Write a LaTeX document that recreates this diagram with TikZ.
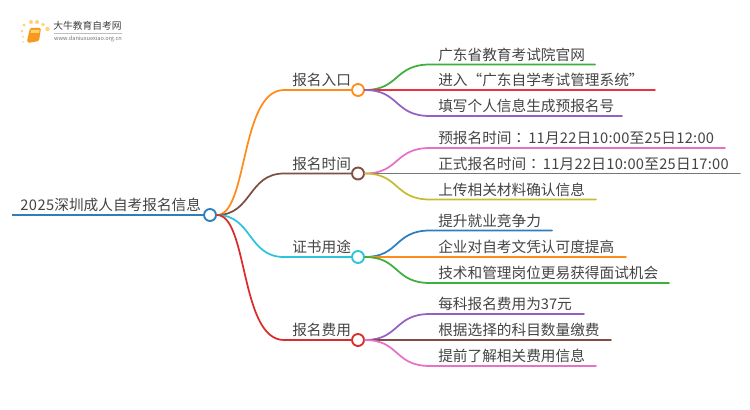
\documentclass[tikz,border=0pt]{standalone}
\usepackage{fontspec}
\setmainfont{Noto Sans CJK SC}
\newfontfamily\tcfont{Noto Sans CJK TC}
\newfontfamily\widefont[LetterSpace=1.8]{Noto Sans CJK SC}
\newfontfamily\digitfont[LetterSpace=3.5]{Noto Sans CJK SC}
\definecolor{cRoot}{HTML}{2E7EBD}
\definecolor{cOrange}{HTML}{FF8C1A}
\definecolor{cBrown}{HTML}{7F4F40}
\definecolor{cCyan}{HTML}{2BC4D8}
\definecolor{cRed}{HTML}{DC2B2B}
\definecolor{cGreen}{HTML}{3CAF3C}
\definecolor{cRed2}{HTML}{EA3340}
\definecolor{cPurple}{HTML}{9560C4}
\definecolor{cPink}{HTML}{E871C8}
\definecolor{cGray}{HTML}{777777}
\definecolor{cOlive}{HTML}{C4BE2E}
\definecolor{cText}{HTML}{444444}
\definecolor{cDot}{HTML}{FFD27A}
\definecolor{cBook}{HTML}{F59A1E}
\definecolor{cPage}{HTML}{FFD36B}
\tikzset{
  x=0.75pt,y=-0.75pt,
  hub/.style={circle,draw=#1,fill=white,line width=1.4pt,minimum size=9pt,inner sep=0pt},
  wire/.style={draw=#1,line width=1.3pt,line cap=round},
  rootwire/.style={draw=#1,line width=1.7pt},
  txt/.style={anchor=west,inner sep=0pt,text=cText,font=\fontsize{11pt}{11pt}\selectfont},
}
\begin{document}
\begin{tikzpicture}
\useasboundingbox (0,0) rectangle (750,410);
\fill[white] (0,0) rectangle (750,410);
% logo
\foreach \px/\py/\r in {24/25/1.7,31/22/2,37/22/2,43/24.5/1.8,47.5/29/2.2,22/31/1.3,23/37/1,23/42/0.8}
  \fill[cDot] (\px,\py) circle[radius=\r];
\fill[cBook,rounded corners=1pt] (30,28) -- (41,28) -- (39,41) -- (28,43) -- (27,41) -- cycle;
\fill[cPage] (31,30) -- (39.5,30) -- (39,33) -- (30.5,33) -- cycle;
\node[inner sep=0pt,anchor=center,text=black!75,font=\fontsize{7.3pt}{7.3pt}\selectfont] (logoa) at (87.5,26) {大牛教育自考网};
\draw[black!25,line width=0.5pt] (54,33) -- (122,33);
\node[inner sep=0pt,anchor=center,text=black!55,font=\fontsize{4.2pt}{4.2pt}\selectfont] (logob) at (88,39) {www.daniuxuexiao.org.cn};
% hubs
\node[hub=cRoot] (root) at (210,215) {};
\node[hub=cOrange] (h1) at (358,90) {};
\node[hub=cBrown] (h2) at (358,173.5) {};
\node[hub=cCyan] (h3) at (358,257) {};
\node[hub=cRed] (h4) at (358,340) {};
% root
\coordinate (rs) at (12,215);
\draw[rootwire=cRoot] (rs) -- (root.west);
\node[txt] (rt) at (20,205) {{\digitfont 2025}深圳成人自考报名信息};
% branches
\coordinate (b1) at (284,90);
\coordinate (b2) at (284,173.5);
\coordinate (b3) at (284,257);
\coordinate (b4) at (284,340);
\draw[wire=cOrange] (root.east) .. controls (248,215) and (240,90) .. (b1) -- (h1.west);
\draw[wire=cBrown] (root.east) .. controls (252,215) and (248,173.5) .. (b2) -- (h2.west);
\draw[wire=cCyan] (root.east) .. controls (252,215) and (248,257) .. (b3) -- (h3.west);
\draw[wire=cRed] (root.east) .. controls (248,215) and (240,340) .. (b4) -- (h4.west);
\node[txt] (t1) at (292,80) {报名入口};
\node[txt] (t2) at (292,163.5) {报名时间};
\node[txt] (t3) at (292,247) {证书用途};
\node[txt] (t4) at (292,330) {报名费用};
% leaves
\foreach \h/\n/\y/\e/\c in {h1/a/64.5/595/cGreen,h1/b/90/655/cRed2,h1/c/116/622/cPurple,
   h2/d/148/725/cPink,h2/e/173.5/740/cGray,h2/f/199.5/596/cOlive,
   h3/g/230.5/552/cRoot,h3/h/257/626/cOrange,h3/i/283/669/cGreen,
   h4/j/314/584/cPurple,h4/k/340/611/cBrown,h4/l/366/596/cPink}{
  \coordinate (s\n) at (430,\y);
  \coordinate (e\n) at (\e,\y);
  \coordinate (c\n) at (394,\y);
  \draw[wire=\c] (\h.east) .. controls ([xshift=26pt]\h.east) and (c\n) .. (s\n) -- (e\n);
}
\node[txt] (ta) at (438,54.5) {广东省教育考试院官网};
\node[txt] (tb) at (438,80) {进入“广东自学考试管理系统”};
\node[txt] (tc) at (438,106) {填写个人信息生成预报名号};
\node[txt] (td) at (438,138) {预报名时间{\tcfont ：}\hspace{1.5pt}{\widefont 11月22日10:00至25日12:00}};
\node[txt] (te) at (438,164) {正式报名时间{\tcfont ：}\hspace{1.5pt}{\widefont 11月22日10:00至25日17:00}};
\node[txt] (tf) at (438,189.5) {上传相关材料确认信息};
\node[txt] (tg) at (438,220.5) {提升就业竞争力};
\node[txt] (th) at (438,247) {企业对自考文凭认可度提高};
\node[txt] (ti) at (438,273) {技术和管理岗位更易获得面试机会};
\node[txt] (tj) at (438,304) {每科报名费用为37元};
\node[txt] (tk) at (438,330) {根据选择的科目数量缴费};
\node[txt] (tl) at (438,356) {提前了解相关费用信息};
\end{tikzpicture}
\end{document}
